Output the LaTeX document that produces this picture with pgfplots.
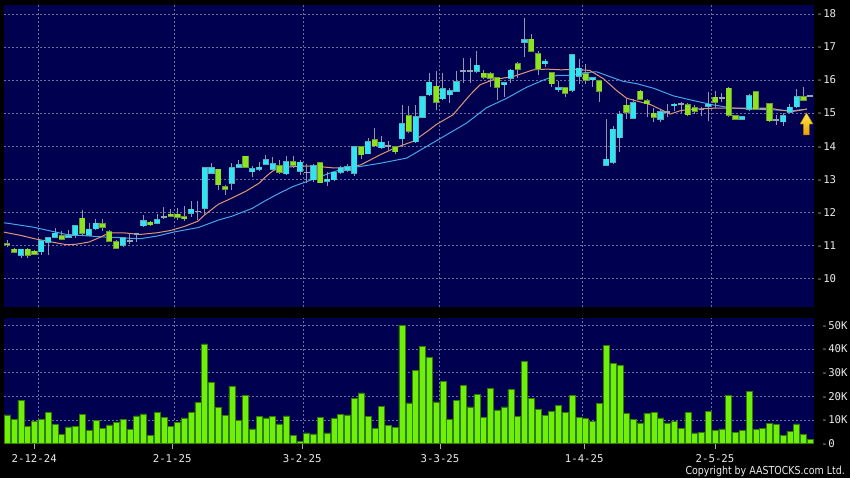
\documentclass[border=0pt]{standalone}
\usepackage{fontspec}
\setmainfont{DejaVu Sans Mono}
\newfontfamily\copyfont[FakeStretch=0.86]{DejaVu Sans}
\usepackage{pgfplots}
\usepackage{pgfplotstable}
\pgfplotsset{compat=1.18}

\definecolor{navy}{RGB}{0,0,80}
\definecolor{gridc}{RGB}{110,110,155}
\definecolor{tickc}{RGB}{170,170,170}
\definecolor{labc}{RGB}{235,235,235}
\definecolor{upfill}{RGB}{50,228,242}
\definecolor{upedge}{RGB}{90,170,185}
\definecolor{dnfill}{RGB}{140,228,30}
\definecolor{dnedge}{RGB}{110,150,60}
\definecolor{flatc}{RGB}{150,165,180}
\definecolor{wick}{RGB}{150,150,170}
\definecolor{maA}{RGB}{225,150,115}
\definecolor{maB}{RGB}{70,165,232}
\definecolor{volfill}{RGB}{110,240,10}
\definecolor{voledge}{RGB}{50,125,0}
\definecolor{arrY}{RGB}{255,230,80}
\definecolor{arrO}{RGB}{235,160,0}

\newcommand{\tk}{\textcolor{tickc}{-}\hspace{0.5pt}}

% rising days (close above open)
\pgfplotstableread{
i o h l c
2 10.71 10.90 10.61 10.88
5 10.81 11.16 10.72 11.14
6 11.09 11.26 10.71 11.23
7 11.24 11.52 11.22 11.36
9 11.24 11.46 11.22 11.29
10 11.31 11.62 11.21 11.60
12 11.31 11.67 11.27 11.49
13 11.50 11.79 11.47 11.67
17 11.01 11.26 10.96 11.23
20 11.59 11.92 11.57 11.75
22 11.67 11.95 11.65 11.77
27 11.97 12.33 11.87 12.09
29 12.12 13.36 11.92 13.35
30 13.19 13.48 13.18 13.35
33 12.88 13.48 12.68 13.35
34 13.37 13.58 13.35 13.43
36 13.23 13.41 13.08 13.31
37 13.30 13.53 13.24 13.36
38 13.45 13.73 13.43 13.58
39 13.30 13.68 13.28 13.46
41 13.17 13.70 13.12 13.53
43 13.24 13.58 13.12 13.51
45 12.99 13.45 12.93 13.41
47 12.94 13.22 12.80 13.00
48 12.99 13.23 12.95 13.21
49 13.21 13.40 13.15 13.34
50 13.27 13.45 13.22 13.37
51 13.19 14.00 13.10 13.98
53 13.77 14.25 13.75 14.13
55 13.95 14.30 13.90 14.12
58 14.22 15.26 13.98 14.68
60 14.13 15.26 14.10 14.88
61 14.88 15.51 14.85 15.49
62 15.56 16.21 15.53 15.93
64 15.44 16.21 15.41 15.73
65 15.56 15.76 15.31 15.68
66 15.66 16.26 15.66 15.94
69 16.26 16.87 16.21 16.44
73 15.86 15.95 15.50 15.91
74 16.06 16.33 15.90 16.29
76 17.15 17.88 16.70 17.22
79 16.49 16.65 16.40 16.57
81 15.71 15.98 15.65 15.77
83 15.69 16.80 15.64 16.77
84 16.12 16.65 15.89 16.35
86 16.01 16.09 15.80 16.07
88 13.42 14.83 13.40 13.60
89 13.52 14.60 13.47 14.51
90 14.25 15.05 13.82 14.96
92 14.85 15.42 14.83 15.32
96 14.81 15.12 14.74 15.04
98 15.23 15.30 15.05 15.27
103 15.21 15.65 14.75 15.27
108 14.81 14.91 14.78 14.89
109 15.12 15.57 15.05 15.53
114 14.74 14.99 14.60 14.91
115 15.03 15.29 14.99 15.17
116 15.19 15.72 15.15 15.49
}\upc

% falling days
\pgfplotstableread{
i o h l c
0 11.05 11.16 10.94 11.03
1 10.88 10.92 10.76 10.80
3 10.88 10.93 10.61 10.71
4 10.82 10.85 10.71 10.74
8 11.28 11.42 11.16 11.18
11 11.82 12.07 11.32 11.36
14 11.65 11.79 11.42 11.55
15 11.41 11.47 11.11 11.13
16 11.11 11.16 10.88 10.91
21 11.70 11.73 11.60 11.63
24 11.94 12.10 11.85 11.88
25 11.94 12.12 11.78 11.86
26 11.87 12.18 11.73 11.80
31 13.30 13.32 12.68 12.83
32 12.77 12.83 12.53 12.70
35 13.69 13.70 13.35 13.36
40 13.41 13.58 13.15 13.21
42 13.53 13.70 13.33 13.42
46 13.49 13.52 12.88 12.89
52 13.98 14.00 13.60 13.74
54 14.20 14.55 13.98 14.02
57 13.98 14.00 13.75 13.83
59 14.92 15.20 14.40 14.45
63 15.81 16.26 15.10 15.33
70 16.21 16.31 16.03 16.09
71 16.19 16.24 15.80 16.06
72 16.06 16.09 15.39 15.79
75 16.50 16.55 16.05 16.32
77 17.23 17.40 16.85 16.87
78 16.80 16.87 16.15 16.32
80 16.22 16.25 15.79 15.89
82 15.77 15.80 15.48 15.61
85 16.19 16.50 15.89 15.99
87 15.98 16.00 15.34 15.67
91 15.24 15.42 14.83 15.03
93 15.66 15.69 15.39 15.42
94 15.38 15.42 14.88 15.28
95 15.00 15.15 14.72 14.88
100 15.26 15.30 14.90 14.95
101 15.16 15.25 14.98 15.06
104 15.48 15.67 15.14 15.33
106 15.75 15.78 14.89 14.93
107 14.92 14.94 14.80 14.82
110 15.65 15.68 15.08 15.11
112 15.29 15.31 14.74 14.77
117 15.49 15.80 15.37 15.39
}\dnc

% unchanged days (open = close)
\pgfplotstableread{
i p h l
18 11.14 11.36 11.04
19 11.35 11.38 11.10
23 11.85 12.17 11.80
28 12.02 12.33 11.78
44 13.20 13.45 12.90
56 14.00 14.15 13.85
67 16.28 16.66 15.92
68 16.27 16.66 15.92
97 15.04 15.28 14.87
99 15.27 15.35 15.00
102 15.11 15.19 14.90
105 15.45 15.60 15.35
111 15.13 15.16 15.08
113 14.80 14.95 14.65
118 15.52 15.54 15.49
}\flatc

% volume, thousands
\pgfplotstableread{
i v
0 12.1
1 10.1
2 18.3
3 7.3
4 9.3
5 10.1
6 13.1
7 8.0
8 3.9
9 7.0
10 7.3
11 12.3
12 5.6
13 9.7
14 6.3
15 7.9
16 9.0
17 10.3
18 6.1
19 11.7
20 12.5
21 3.4
22 13.1
23 11.1
24 7.3
25 9.0
26 10.8
27 13.0
28 17.5
29 42.1
30 25.9
31 15.4
32 12.0
33 24.1
34 9.9
35 20.4
36 6.2
37 11.5
38 10.8
39 11.3
40 8.3
41 11.7
42 3.5
43 1.0
44 4.5
45 4.1
46 11.1
47 4.5
48 10.6
49 12.3
50 12.1
51 19.0
52 21.4
53 11.5
54 6.5
55 15.8
56 7.6
57 6.9
58 50.0
59 17.2
60 30.8
61 41.1
62 36.3
63 17.6
64 26.3
65 10.3
66 18.3
67 24.4
68 15.5
69 20.6
70 11.0
71 23.2
72 14.2
73 15.5
74 22.8
75 11.5
76 34.8
77 19.0
78 14.4
79 11.8
80 13.7
81 16.1
82 13.1
83 20.3
84 11.1
85 10.6
86 9.4
87 16.8
88 41.5
89 33.7
90 33.1
91 12.8
92 10.3
93 8.7
94 12.8
95 13.1
96 10.8
97 8.7
98 9.3
99 6.3
100 13.0
101 4.5
102 4.8
103 13.5
104 5.5
105 6.2
106 20.3
107 4.8
108 5.5
109 22.1
110 6.1
111 6.3
112 8.6
113 8.0
114 3.4
115 5.2
116 8.3
117 3.8
118 1.8
}\vol

\pgfplotsset{
  panel/.style={
    scale only axis, width=810.3pt,
    xmin=-0.485, xmax=118.59,
    axis background/.style={fill=navy},
    axis line style={draw=none},
    grid style={gridc, dash pattern=on 2pt off 2pt, line width=0.5pt},
    ytick pos=right, yticklabel pos=right,
    ytick style={draw=none},
    yticklabel style={anchor=west, text=labc, font=\fontsize{10.7}{12}\selectfont, xshift=-1.5pt},
    ymajorgrids,
  },
  % one upward segment per row, from y to y + plus; the point mark itself is hidden
  bars/.style={only marks, mark=*, mark size=0pt,
    mark options={draw opacity=0, fill opacity=0}, forget plot,
    error bars/.cd, y dir=plus, y explicit, error mark=none},
}

\begin{document}
\begin{tikzpicture}
\fill[black] (0pt,0pt) rectangle (850pt,-478pt);

% price panel
\begin{axis}[panel, at={(4pt,-5pt)}, anchor=north west, height=301.5pt,
  ymin=9.15, ymax=18.27, ytick={10,11,...,18},
  yticklabels={\tk10,\tk11,\tk12,\tk13,\tk14,\tk15,\tk16,\tk17,\tk18},
  xtick={4.5,24.5,43.5,63.5,84.5,103.5}, xticklabels={}, xmajorgrids,
  xtick style={draw=none}]

% moving averages
\addplot[maB, line width=1pt, line join=round] coordinates {
(-0.5,11.68) (0,11.67) (3.8,11.55) (8.7,11.33) (13.6,11.26) (19.5,11.20)
(22,11.28) (24.4,11.40) (28.1,11.54) (31.1,11.77) (33,11.88) (36,12.12)
(38,12.36) (40,12.58) (42,12.78) (44,12.93) (46,13.08) (48,13.23) (50,13.34)
(52,13.39) (55,13.49) (58.7,13.64) (61.6,13.99) (64.6,14.35) (67.5,14.70)
(70.4,15.16) (73.4,15.45) (76.3,15.78) (78.8,16.00) (80.7,16.14) (82.7,16.14)
(84.7,16.22) (86.6,16.25) (88.6,16.10) (90.5,15.96) (92.5,15.89) (95,15.75)
(97.9,15.52) (100.8,15.38) (103.7,15.25) (106.6,15.15) (109.5,15.12)
(112.4,15.10) (115.4,15.07) (117.5,15.12)};
\addplot[maA, line width=1pt, line join=round] coordinates {
(-0.5,11.40) (0,11.38) (2,11.30) (4,11.20) (6,11.12) (8.7,11.02) (10,11.03)
(12,11.10) (13.6,11.24) (15,11.38) (17,11.38) (19.5,11.33) (22,11.38)
(24,11.45) (26,11.57) (28,11.73) (29,11.92) (31,12.24) (33,12.43) (35,12.63)
(37,12.88) (38,13.08) (39,13.25) (40,13.35) (42,13.38) (44,13.40) (46,13.38)
(48,13.34) (50,13.34) (52,13.44) (54.8,13.74) (57,13.95) (59.7,14.15)
(62,14.49) (63,14.65) (65.5,14.95) (68,15.55) (69.5,15.86) (71.4,16.01)
(74.4,16.11) (77.3,16.31) (79.3,16.33) (81.3,16.31) (83.7,16.32) (85.6,16.29)
(87.6,16.04) (89.5,15.69) (91,15.45) (94.6,15.25) (97.4,14.97) (99,15.08)
(101,15.12) (104,15.15) (108,15.15) (112,15.15) (114,15.08) (115.4,15.05)
(117.5,15.12)};

% wicks
\addplot[bars, error bar style={wick, line width=0.8pt}]
  table[x=i, y=l, y error plus expr=\thisrow{h}-\thisrow{l}] {\upc};
\addplot[bars, error bar style={wick, line width=0.8pt}]
  table[x=i, y=l, y error plus expr=\thisrow{h}-\thisrow{l}] {\dnc};
\addplot[bars, error bar style={wick, line width=0.8pt}]
  table[x=i, y=l, y error plus expr=\thisrow{h}-\thisrow{l}] {\flatc};

% bodies: edge first, then fill
\addplot[bars, error bar style={upedge, line width=6.2pt}]
  table[x=i, y expr=\thisrow{o}-0.018, y error plus expr=\thisrow{c}-\thisrow{o}+0.036] {\upc};
\addplot[bars, error bar style={upfill, line width=5.0pt}]
  table[x=i, y=o, y error plus expr=\thisrow{c}-\thisrow{o}] {\upc};
\addplot[bars, error bar style={dnedge, line width=6.2pt}]
  table[x=i, y expr=\thisrow{c}-0.018, y error plus expr=\thisrow{o}-\thisrow{c}+0.036] {\dnc};
\addplot[bars, error bar style={dnfill, line width=5.0pt}]
  table[x=i, y=c, y error plus expr=\thisrow{o}-\thisrow{c}] {\dnc};
\addplot[bars, error bar style={flatc, line width=5.8pt}]
  table[x=i, y expr=\thisrow{p}-0.025, y error plus expr=0.05] {\flatc};

% marker arrow at the latest bar
\path[top color=arrY, bottom color=arrO, draw=arrO!70!black, line width=0.4pt]
  (axis cs:117.44,15.01) -- (axis cs:118.40,14.67) -- (axis cs:117.88,14.67)
  -- (axis cs:117.88,14.34) -- (axis cs:117.00,14.34) -- (axis cs:117.00,14.67)
  -- (axis cs:116.49,14.67) -- cycle;
\end{axis}

% volume panel
\begin{axis}[panel, at={(4pt,-318pt)}, anchor=north west, height=125.5pt,
  ymin=0, ymax=53, ytick={0,10,...,50},
  yticklabels={\tk0,\tk10K,\tk20K,\tk30K,\tk40K,\tk50K},
  xtick={3.95,24.23,43.34,63.59,84.78,104.0},
  xticklabels={2-12-24,2-1-25,3-2-25,3-3-25,1-4-25,2-5-25},
  xtick pos=lower, tick align=outside, major tick length=5pt,
  xtick style={draw=tickc, line width=0.6pt},
  xticklabel style={text=labc, font=\fontsize{10.7}{12}\selectfont, yshift=-3pt},
  extra x ticks={4.5,24.5,43.5,63.5,84.5,103.5}, extra x tick labels={},
  extra x tick style={grid=major, major tick length=0pt}]
\addplot[ybar, bar width=6.0pt, fill=volfill, draw=voledge, line width=0.5pt]
  table[x=i, y=v] {\vol};
\end{axis}

\node[anchor=east, text=labc, inner sep=0pt] at (845pt,-471.5pt)
  {\copyfont\fontsize{11}{13}\selectfont Copyright by AASTOCKS.com Ltd.};

\pgfresetboundingbox
\useasboundingbox (0pt,0pt) rectangle (850pt,-478pt);
\end{tikzpicture}
\end{document}
